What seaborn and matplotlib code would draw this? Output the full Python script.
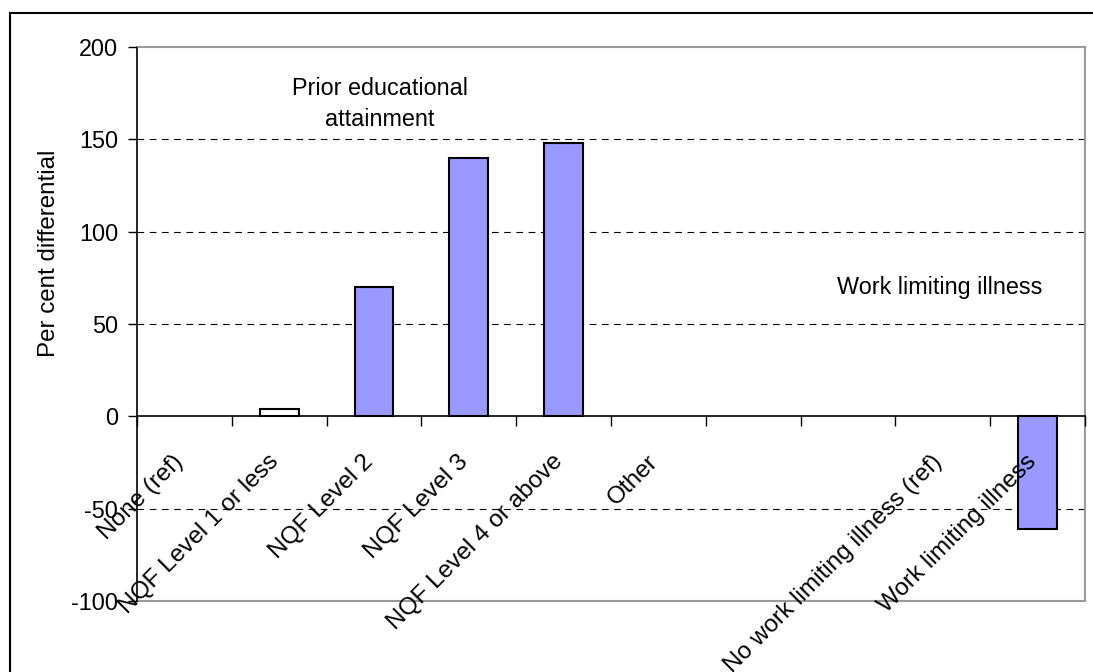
import numpy as np
import pandas as pd
import matplotlib
matplotlib.use("Agg")
import matplotlib.pyplot as plt
import seaborn as sns
from matplotlib.patches import Rectangle
from matplotlib.transforms import ScaledTranslation

# ---- data ----
categories = ["None (ref)", "NQF Level 1 or less", "NQF Level 2", "NQF Level 3",
              "NQF Level 4 or above", "Other", " ", "  ",
              "No work limiting illness (ref)", "Work limiting illness"]
values = [np.nan, 4, 70, 140, 148, np.nan, np.nan, np.nan, np.nan, -61]
significant = [False, False, True, True, True, False, False, False, False, True]
y_ticks = [-100, -50, 0, 50, 100, 150, 200]
grid_values = [-50, 50, 100, 150]
y_label = "Per cent differential"
group_labels = ["Prior educational\nattainment", "Work limiting illness"]

sns.set_theme(style="white")
plt.rcParams['font.family'] = ['Liberation Sans', 'DejaVu Sans']
plt.rcParams['text.color'] = 'black'
plt.rcParams['xtick.color'] = 'black'
plt.rcParams['ytick.color'] = 'black'
FS = 16.8
FSX = 17.6

df = pd.DataFrame({"category": categories, "value": values})
palette = {c: ("#9999FF" if s else "white") for c, s in zip(categories, significant)}

W, H = 1093, 672
fig = plt.figure(figsize=(W / 100, H / 100), dpi=100)
ax = fig.add_axes([137 / W, 1 - 601 / H, (1085 - 137) / W, (601 - 47) / H])

sns.barplot(data=df, x="category", y="value", hue="category", palette=palette,
            order=categories, hue_order=categories, legend=False, width=0.41,
            saturation=1, edgecolor="black", linewidth=1.5, errorbar=None,
            ax=ax, zorder=2)
ax.set_axisbelow(False)

ax.set_xlim(-0.5, len(categories) - 0.5)
ax.set_ylim(-100, 200)
ax.set_yticks(y_ticks)
ax.set_yticklabels([str(v) for v in y_ticks], fontsize=FS)
ax.set_xlabel("")
ax.set_ylabel("")

# grid lines
for g in grid_values:
    ax.axhline(g, color="black", lw=0.8, linestyle=(0, (6, 5)), zorder=1)

# frame
for s in ("top", "right"):
    ax.spines[s].set_color("#999999")
    ax.spines[s].set_linewidth(1.5)
ax.spines["left"].set_color("black")
ax.spines["left"].set_linewidth(1.2)
ax.spines["bottom"].set_position(("data", 0))
ax.spines["bottom"].set_color("black")
ax.spines["bottom"].set_linewidth(1.2)
ax.axhline(-100, color="#999999", lw=1.5, clip_on=False, zorder=1.5)

# x ticks at boundaries, labels at centers
ax.set_xticks(np.arange(-0.5, len(categories), 1))
ax.set_xticklabels([])
ax.set_xticks(np.arange(len(categories)), minor=True)
ax.set_xticklabels(categories, minor=True, rotation=45, ha="right", va="top",
                   rotation_mode="anchor", fontsize=FSX)
ax.tick_params(axis="x", which="major", bottom=True, direction="out", length=7,
               width=1, color="black")
ax.tick_params(axis="x", which="minor", bottom=True, length=0, pad=24)
ax.tick_params(axis="y", which="major", left=True, direction="out", length=6.5,
               width=1, color="black", pad=7)
shift = ScaledTranslation(-12 / 100, -1 / 100, fig.dpi_scale_trans)
for lab in ax.get_xticklabels(minor=True):
    lab.set_transform(lab.get_transform() + shift)

# group annotations
ax.text(2.06, 184, group_labels[0], ha="center", va="top", fontsize=FS,
        linespacing=1.45, zorder=5)
ax.text(7.97, 70, group_labels[1], ha="center", va="center", fontsize=FS, zorder=5)

fig.text(49 / W, 1 - 253 / H, y_label, rotation=90, ha="center", va="center",
         fontsize=17.4)

# outer chart border
fig.add_artist(Rectangle((10 / W, -0.05), 2, (H - 13) / H + 0.05, fill=False,
                         edgecolor="black", lw=1.5, transform=fig.transFigure))

fig.savefig("out.png", dpi=100)
